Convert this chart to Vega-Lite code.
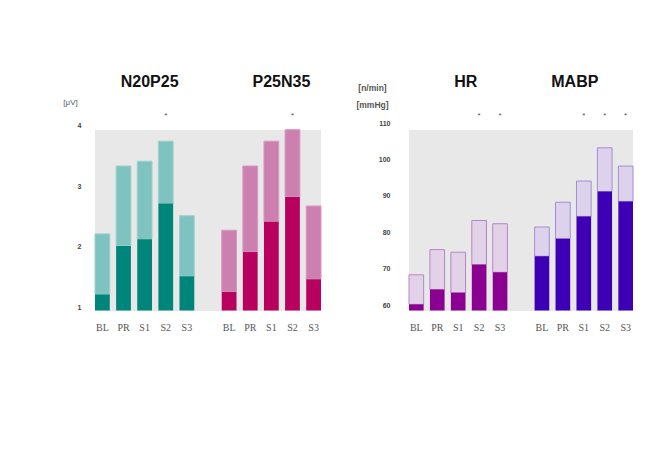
{
  "$schema": "https://vega.github.io/schema/vega-lite/v6.json",
  "background": "white",
  "padding": {"left": 62, "top": 74, "right": 5, "bottom": 5},
  "autosize": {"type": "pad"},
  "datasets": {
    "bars": [
      {"panel": "L", "group": "N20P25", "cond": "BL", "mean": 1.21, "top": 2.21, "sig": ""},
      {"panel": "L", "group": "N20P25", "cond": "PR", "mean": 2.01, "top": 3.33, "sig": ""},
      {"panel": "L", "group": "N20P25", "cond": "S1", "mean": 2.12, "top": 3.41, "sig": ""},
      {"panel": "L", "group": "N20P25", "cond": "S2", "mean": 2.71, "top": 3.74, "sig": "*"},
      {"panel": "L", "group": "N20P25", "cond": "S3", "mean": 1.51, "top": 2.51, "sig": ""},
      {"panel": "L", "group": "P25N35", "cond": "BL", "mean": 1.25, "top": 2.27, "sig": ""},
      {"panel": "L", "group": "P25N35", "cond": "PR", "mean": 1.91, "top": 3.33, "sig": ""},
      {"panel": "L", "group": "P25N35", "cond": "S1", "mean": 2.41, "top": 3.74, "sig": ""},
      {"panel": "L", "group": "P25N35", "cond": "S2", "mean": 2.82, "top": 3.93, "sig": "*"},
      {"panel": "L", "group": "P25N35", "cond": "S3", "mean": 1.46, "top": 2.67, "sig": ""},
      {"panel": "R", "group": "HR", "cond": "BL", "mean": 60.3, "top": 68.4, "sig": ""},
      {"panel": "R", "group": "HR", "cond": "PR", "mean": 64.4, "top": 75.3, "sig": ""},
      {"panel": "R", "group": "HR", "cond": "S1", "mean": 63.5, "top": 74.6, "sig": ""},
      {"panel": "R", "group": "HR", "cond": "S2", "mean": 71.2, "top": 83.3, "sig": "*"},
      {"panel": "R", "group": "HR", "cond": "S3", "mean": 69.1, "top": 82.4, "sig": "*"},
      {"panel": "R", "group": "MABP", "cond": "BL", "mean": 73.5, "top": 81.5, "sig": ""},
      {"panel": "R", "group": "MABP", "cond": "PR", "mean": 78.3, "top": 88.3, "sig": ""},
      {"panel": "R", "group": "MABP", "cond": "S1", "mean": 84.4, "top": 94.1, "sig": "*"},
      {"panel": "R", "group": "MABP", "cond": "S2", "mean": 91.2, "top": 103.2, "sig": "*"},
      {"panel": "R", "group": "MABP", "cond": "S3", "mean": 88.5, "top": 98.2, "sig": "*"}
    ]
  },
  "config": {
    "view": {"stroke": null, "fill": null},
    "axis": {"domain": false, "grid": false, "ticks": false, "tickSize": 0, "labelOverlap": false},
    "axisX": {"labelFont": "Liberation Serif", "labelFontSize": 10, "labelColor": "#555555", "labelAngle": 0, "labelPadding": 12, "title": null},
    "axisY": {"labelFont": "Liberation Sans", "labelFontSize": 7, "labelFontWeight": "bold", "labelColor": "#444444",
              "titleFont": "Liberation Sans", "titleFontSize": 8, "titleFontWeight": "normal", "titleColor": "#555555",
              "titleAngle": 0, "titleAlign": "center", "titleBaseline": "middle"},
    "text": {"font": "Liberation Sans"}
  },
  "spacing": 88,
  "bounds": "flush",
  "hconcat": [
    {
      "width": 226,
      "height": 187.5,
      "data": {"name": "bars"},
      "transform": [
        {"filter": "datum.panel == 'L'"},
        {"calculate": "datum.group + '|' + datum.cond", "as": "key"}
      ],
      "layer": [
        {
          "mark": {"type": "rect", "color": "#e8e8e8"},
          "encoding": {
            "y": {"datum": 0.945, "type": "quantitative",
                  "scale": {"domain": [0.945, 4.04], "zero": false, "nice": false},
                  "axis": {"values": [1, 2, 3, 4], "tickCount": 10, "format": "d", "labelPadding": 14, "title": "[μV]", "titleX": -25, "titleY": -20.5}},
            "y2": {"datum": 3.918}
          }
        },
        {
          "mark": {"type": "bar", "strokeWidth": 1},
          "encoding": {
            "x": {
              "field": "key", "type": "nominal",
              "scale": {
                "domain": ["N20P25|BL", "N20P25|PR", "N20P25|S1", "N20P25|S2", "N20P25|S3", "gap",
                           "P25N35|BL", "P25N35|PR", "P25N35|S1", "P25N35|S2", "P25N35|S3"],
                "paddingInner": 0.3, "paddingOuter": 0
              },
              "axis": {"labelExpr": "datum.label == 'gap' ? '' : split(datum.label, '|')[1]"}
            },
            "y": {"field": "top", "type": "quantitative", "stack": null},
            "y2": {"field": "mean"},
            "fill": {"field": "group", "type": "nominal", "legend": null,
                     "scale": {"domain": ["N20P25", "P25N35", "HR", "MABP"], "range": ["#7ec3bf", "#cc80b0", "#e2d2e8", "#ddd2ec"]}},
            "stroke": {"field": "group", "type": "nominal", "legend": null,
                       "scale": {"domain": ["N20P25", "P25N35", "HR", "MABP"], "range": ["#9fd2cf", "#d898bf", "#b884c8", "#a48cd6"]}}
          }
        },
        {
          "mark": {"type": "bar"},
          "encoding": {
            "x": {"field": "key", "type": "nominal"},
            "y": {"field": "mean", "type": "quantitative", "stack": null},
            "y2": {"datum": 0.945},
            "color": {"field": "group", "type": "nominal", "legend": null,
                      "scale": {"domain": ["N20P25", "P25N35", "HR", "MABP"], "range": ["#00857a", "#b8005f", "#8a0090", "#3d00b5"]}}
          }
        },
        {
          "transform": [{"filter": "datum.sig == '*'"}],
          "mark": {"type": "text", "fontSize": 8, "color": "#555555", "baseline": "middle"},
          "encoding": {"x": {"field": "key", "type": "nominal"}, "y": {"datum": 4.16}, "text": {"field": "sig"}}
        },
        {
          "transform": [{"filter": "datum.cond == 'S1' && datum.group == 'N20P25'"}],
          "mark": {"type": "text", "fontSize": 16, "fontWeight": "bold", "color": "#111111", "baseline": "middle", "dx": 5},
          "encoding": {"x": {"field": "key", "type": "nominal"}, "y": {"datum": 4.71}, "text": {"field": "group"}}
        },
        {
          "transform": [{"filter": "datum.cond == 'S1' && datum.group == 'P25N35'"}],
          "mark": {"type": "text", "fontSize": 16, "fontWeight": "bold", "color": "#111111", "baseline": "middle", "dx": 10},
          "encoding": {"x": {"field": "key", "type": "nominal"}, "y": {"datum": 4.71}, "text": {"field": "group"}}
        }
      ]
    },
    {
      "width": 224,
      "height": 187.5,
      "data": {"name": "bars"},
      "transform": [
        {"filter": "datum.panel == 'R'"},
        {"calculate": "datum.group + '|' + datum.cond", "as": "key"}
      ],
      "layer": [
        {
          "mark": {"type": "rect", "color": "#e8e8e8"},
          "encoding": {
            "y": {"datum": 58.63, "type": "quantitative",
                  "scale": {"domain": [58.63, 110], "zero": false, "nice": false},
                  "axis": {"values": [60, 70, 80, 90, 100, 110], "tickCount": 10, "format": "d", "labelPadding": 19,
                           "title": ["[n/min]", "[mmHg]"], "titleFontWeight": "bold", "titleFontSize": 8.5, "titleLineHeight": 17,
                           "titleX": -37, "titleY": -35.5}},
            "y2": {"datum": 107.95}
          }
        },
        {
          "mark": {"type": "bar", "strokeWidth": 1},
          "encoding": {
            "x": {
              "field": "key", "type": "nominal",
              "scale": {
                "domain": ["HR|BL", "HR|PR", "HR|S1", "HR|S2", "HR|S3", "gap",
                           "MABP|BL", "MABP|PR", "MABP|S1", "MABP|S2", "MABP|S3"],
                "paddingInner": 0.3, "paddingOuter": 0
              },
              "axis": {"labelExpr": "datum.label == 'gap' ? '' : split(datum.label, '|')[1]"}
            },
            "y": {"field": "top", "type": "quantitative", "stack": null},
            "y2": {"field": "mean"},
            "fill": {"field": "group", "type": "nominal", "legend": null,
                     "scale": {"domain": ["N20P25", "P25N35", "HR", "MABP"], "range": ["#7ec3bf", "#cc80b0", "#e2d2e8", "#ddd2ec"]}},
            "stroke": {"field": "group", "type": "nominal", "legend": null,
                       "scale": {"domain": ["N20P25", "P25N35", "HR", "MABP"], "range": ["#9fd2cf", "#d898bf", "#b884c8", "#a48cd6"]}}
          }
        },
        {
          "mark": {"type": "bar"},
          "encoding": {
            "x": {"field": "key", "type": "nominal"},
            "y": {"field": "mean", "type": "quantitative", "stack": null},
            "y2": {"datum": 58.63},
            "color": {"field": "group", "type": "nominal", "legend": null,
                      "scale": {"domain": ["N20P25", "P25N35", "HR", "MABP"], "range": ["#00857a", "#b8005f", "#8a0090", "#3d00b5"]}}
          }
        },
        {
          "transform": [{"filter": "datum.sig == '*'"}],
          "mark": {"type": "text", "fontSize": 8, "color": "#555555", "baseline": "middle"},
          "encoding": {"x": {"field": "key", "type": "nominal"}, "y": {"datum": 112.0}, "text": {"field": "sig"}}
        },
        {
          "transform": [{"filter": "datum.cond == 'S1' && datum.group == 'HR'"}],
          "mark": {"type": "text", "fontSize": 16, "fontWeight": "bold", "color": "#111111", "baseline": "middle", "dx": 7.5},
          "encoding": {"x": {"field": "key", "type": "nominal"}, "y": {"datum": 121.1}, "text": {"field": "group"}}
        },
        {
          "transform": [{"filter": "datum.cond == 'S1' && datum.group == 'MABP'"}],
          "mark": {"type": "text", "fontSize": 16, "fontWeight": "bold", "color": "#111111", "baseline": "middle", "dx": -9},
          "encoding": {"x": {"field": "key", "type": "nominal"}, "y": {"datum": 121.1}, "text": {"field": "group"}}
        }
      ]
    }
  ]
}
